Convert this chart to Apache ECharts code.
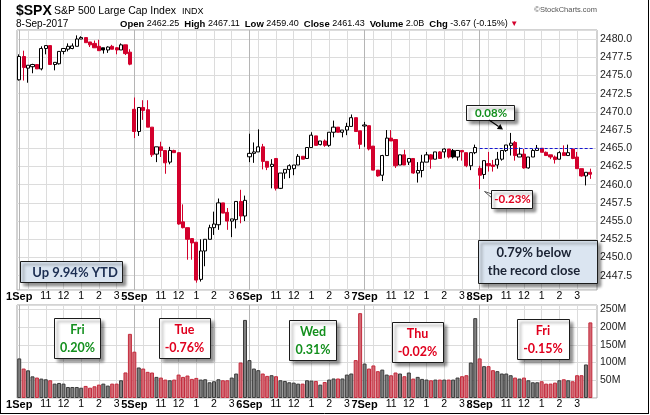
<!DOCTYPE html>
<html>
<head>
<meta charset="utf-8">
<title>$SPX 15 minute</title>
<script src="https://cdn.jsdelivr.net/npm/echarts@6/dist/echarts.min.js"></script>
<style>
  html, body { margin: 0; padding: 0; background: #fff; }
  #chart { width: 650px; height: 415px; }
</style>
</head>
<body>
<div id="chart"></div>
<script>
// trading days and the 15 minute slots of each session
const days = ['1Sep', '5Sep', '6Sep', '7Sep', '8Sep'];
const slots = ['9:30', '9:45', '10:00', '10:15', '10:30', '10:45', '11:00', '11:15', '11:30', '11:45',
  '12:00', '12:15', '12:30', '12:45', '13:00', '13:15', '13:30', '13:45', '14:00', '14:15',
  '14:30', '14:45', '15:00', '15:15', '15:30', '15:45'];
const hourLabels = { '11:00': '11', '12:00': '12', '13:00': '1', '14:00': '2', '15:00': '3' };
const gridSlots = ['9:30', '10:00', '11:00', '12:00', '13:00', '14:00', '15:00'];

const prevClose = 2471.65; // 31-Aug close, colours the first bar

const opens = [
  2474.4, 2477.6, 2476.0, 2476.2, 2476.5, 2475.9, 2478.7, 2479.1, 2476.5, 2476.6, 2478.3, 2478.6, 2478.7,
  2479.0, 2480.0, 2480.2, 2479.6, 2479.4, 2479.0, 2478.8, 2478.5, 2479.0, 2478.8, 2478.5, 2479.2, 2478.2,
  2470.35, 2467.3, 2470.6, 2470.3, 2467.9, 2464.2, 2465.2, 2464.7, 2463.1, 2464.7, 2464.4, 2454.9, 2454.1,
  2452.6, 2452.1, 2447.0, 2450.9, 2452.5, 2454.1, 2454.5, 2457.5, 2456.2, 2455.0, 2455.2, 2457.7, 2455.7,
  2463.83, 2464.3, 2464.5, 2465.2, 2463.2, 2462.5, 2463.6, 2459.5, 2461.6, 2462.1, 2462.2, 2462.7, 2463.9,
  2463.6, 2465.1, 2466.7, 2465.5, 2466.0, 2465.4, 2467.2, 2467.9, 2467.2, 2467.5, 2468.0, 2469.2, 2467.4,
  2468.06, 2468.1, 2465.3, 2462.0, 2461.3, 2464.0, 2466.4, 2466.2, 2462.7, 2464.1, 2463.1, 2463.6, 2461.6,
  2461.95, 2463.1, 2464.1, 2463.5, 2464.5, 2464.5, 2464.9, 2464.7, 2463.8, 2464.7, 2464.4, 2462.6, 2464.4,
  2462.25, 2461.4, 2462.9, 2462.7, 2462.7, 2463.5, 2464.7, 2465.4, 2465.8, 2463.8, 2464.2, 2462.3, 2463.8,
  2464.7, 2465.0, 2464.45, 2464.1, 2463.8, 2463.5, 2464.4, 2464.0, 2464.9, 2463.8, 2462.2, 2461.2, 2461.7
];
const closes = [
  2477.6, 2476.1, 2476.4, 2476.5, 2475.9, 2478.7, 2479.1, 2476.5, 2476.8, 2478.3, 2478.7, 2479.0, 2479.05,
  2480.0, 2480.2, 2479.5, 2479.2, 2478.8, 2478.4, 2478.5, 2478.9, 2478.6, 2478.5, 2479.2, 2478.0, 2476.55,
  2467.3, 2470.6, 2470.2, 2467.9, 2464.1, 2465.2, 2464.7, 2463.0, 2464.7, 2464.4, 2454.6, 2454.1, 2452.5,
  2452.0, 2446.9, 2450.9, 2452.5, 2454.1, 2454.6, 2457.5, 2456.1, 2455.0, 2455.3, 2457.7, 2455.7, 2457.85,
  2464.3, 2464.5, 2465.2, 2463.2, 2462.4, 2462.8, 2459.5, 2461.6, 2462.1, 2462.6, 2462.7, 2463.9, 2463.5,
  2465.1, 2466.8, 2465.4, 2466.0, 2465.4, 2467.2, 2467.9, 2467.2, 2467.5, 2468.0, 2469.2, 2467.3, 2465.54,
  2468.2, 2464.9, 2462.0, 2461.2, 2464.0, 2466.4, 2466.0, 2462.6, 2464.1, 2462.7, 2463.6, 2461.6, 2461.95,
  2463.1, 2464.1, 2463.5, 2464.5, 2463.6, 2464.9, 2463.8, 2463.8, 2464.7, 2464.5, 2462.6, 2464.4, 2465.1,
  2461.3, 2463.3, 2462.6, 2462.5, 2463.5, 2464.7, 2465.45, 2465.7, 2464.0, 2464.2, 2462.3, 2463.8, 2464.7,
  2465.0, 2464.45, 2464.0, 2463.8, 2463.45, 2464.4, 2464.0, 2464.4, 2463.6, 2462.2, 2461.2, 2461.7, 2461.43
];
const lows = [
  2474.3, 2474.3, 2474.0, 2475.3, 2475.9, 2475.7, 2477.9, 2476.5, 2475.7, 2476.5, 2477.9, 2478.3, 2478.6,
  2479.0, 2480.0, 2479.5, 2478.9, 2478.8, 2478.4, 2478.0, 2478.1, 2478.6, 2477.9, 2478.5, 2477.8, 2476.4,
  2466.4, 2466.7, 2468.9, 2467.9, 2463.8, 2463.1, 2463.8, 2461.5, 2462.8, 2464.4, 2454.5, 2454.0, 2449.7,
  2449.7, 2446.55, 2446.7, 2448.8, 2452.5, 2453.1, 2453.8, 2456.1, 2453.8, 2452.8, 2454.0, 2454.7, 2455.0,
  2463.1, 2463.0, 2464.5, 2462.1, 2462.0, 2459.5, 2459.2, 2459.4, 2460.8, 2460.9, 2461.3, 2462.7, 2463.5,
  2463.6, 2465.1, 2465.4, 2465.4, 2465.2, 2465.2, 2466.5, 2467.2, 2466.5, 2466.8, 2468.0, 2467.3, 2464.9,
  2465.2, 2464.7, 2462.0, 2461.1, 2460.5, 2464.0, 2466.0, 2462.3, 2462.7, 2462.7, 2462.7, 2461.5, 2460.29,
  2461.0, 2463.1, 2462.2, 2463.5, 2463.6, 2463.7, 2463.6, 2463.6, 2463.3, 2463.3, 2462.4, 2462.0, 2464.2,
  2459.4, 2460.8, 2461.8, 2461.8, 2462.2, 2463.3, 2464.5, 2464.0, 2463.3, 2463.8, 2462.2, 2462.2, 2463.8,
  2464.7, 2464.45, 2464.0, 2463.5, 2462.9, 2463.45, 2464.0, 2464.0, 2463.5, 2462.2, 2461.1, 2459.9, 2460.8
];
const highs = [
  2477.9, 2478.4, 2476.4, 2476.6, 2476.5, 2479.0, 2479.1, 2479.1, 2476.8, 2478.3, 2478.7, 2479.4, 2479.4,
  2480.5, 2480.38, 2480.2, 2479.6, 2479.8, 2479.9, 2478.8, 2479.0, 2479.2, 2478.9, 2479.4, 2479.2, 2478.6,
  2471.97, 2470.6, 2471.6, 2471.6, 2467.9, 2465.2, 2465.9, 2464.7, 2465.2, 2464.8, 2464.4, 2457.3, 2454.1,
  2452.6, 2452.1, 2452.5, 2452.5, 2454.5, 2456.3, 2458.1, 2457.5, 2456.8, 2455.3, 2457.7, 2459.3, 2458.5,
  2467.0, 2465.8, 2467.6, 2465.6, 2463.2, 2463.5, 2463.6, 2461.6, 2462.1, 2462.8, 2462.7, 2464.2, 2463.9,
  2465.1, 2467.2, 2466.7, 2466.0, 2466.2, 2467.2, 2468.8, 2467.9, 2467.5, 2468.5, 2469.64, 2469.2, 2467.4,
  2468.62, 2468.1, 2465.3, 2462.0, 2464.1, 2467.5, 2467.5, 2466.2, 2464.1, 2464.8, 2463.6, 2463.6, 2463.1,
  2464.1, 2464.5, 2464.2, 2464.5, 2464.6, 2465.0, 2464.9, 2464.9, 2464.7, 2464.7, 2464.4, 2464.4, 2465.5,
  2462.6, 2463.3, 2464.5, 2463.4, 2464.5, 2464.7, 2465.45, 2467.11, 2466.0, 2465.1, 2464.9, 2463.8, 2464.9,
  2465.45, 2465.0, 2464.55, 2464.1, 2464.0, 2464.6, 2465.4, 2465.5, 2464.9, 2464.5, 2462.2, 2461.7, 2462.2
];
// volume in millions of shares
const volumes = [
  111.5, 83, 78, 61, 57.6, 54.7, 52.8, 50, 40.5, 42.4, 40.5, 31, 31, 31, 29, 34, 29, 33, 37.7, 40.5, 35, 40.5, 40.5, 50, 72, 180.7,
  130.5, 86, 83, 73.7, 71.8, 59.5, 57.6, 51.9, 50, 51.9, 66, 59.5, 63.3, 53.8, 56.6, 51.9, 52.8, 44.3, 47.2, 52.8, 50, 50, 57.6, 68.9, 100, 220,
  106.8, 83, 78.4, 69, 62.3, 64.2, 61.4, 50, 48, 44.3, 43.4, 40.5, 40.5, 50, 49, 48, 37.7, 45, 52, 55, 55, 55, 66, 69, 106.8, 239,
  97, 83, 91.7, 75.6, 80, 66, 64, 71.8, 69, 61.4, 71.8, 54.7, 59.5, 53.8, 51.9, 50, 51.9, 51.9, 51.9, 51.9, 51.9, 57.6, 61.4, 64.2, 100, 225,
  111.5, 89.7, 89.7, 78.4, 75.6, 69, 69, 64.2, 57.6, 54.7, 57.6, 50, 44.3, 44.3, 47.2, 40.5, 40.5, 43.4, 50, 52.8, 50, 47.2, 64.2, 64.2, 94.5, 213
];

const RED = '#d3002c';
const GREEN_TXT = '#14901e';
const RED_TXT = '#e0001e';
const FONT = '"Liberation Sans", Arial, sans-serif';
const NOTE_FONT = 'Lato, "Open Sans", sans-serif';

const categories = [];
days.forEach(d => slots.forEach(s => categories.push(d + ' ' + s)));
categories.push(''); // empty slot at the right edge of the plot

function tickLabel(value) {
  if (!value) return '';
  const [day, slot] = value.split(' ');
  if (slot === '9:30') return '{d|' + day + '}';
  return hourLabels[slot] || '';
}
function isGridSlot(value) {
  return !!value && gridSlots.includes(value.split(' ')[1]);
}

const candleData = opens.map((o, i) => {
  const c = closes[i];
  const before = i === 0 ? prevClose : closes[i - 1];
  const line = c >= before ? '#000000' : RED;
  const fill = c > o ? '#ffffff' : line;
  return {
    value: [o, c, lows[i], highs[i]],
    itemStyle: { color: fill, color0: fill, borderColor: line, borderColor0: line }
  };
});

const volumeData = volumes.map((v, i) => {
  const before = i === 0 ? prevClose : closes[i - 1];
  const up = closes[i] >= before;
  return {
    value: v,
    itemStyle: up ? { color: '#808080', borderColor: '#3a3a3a' } : { color: '#d26a74', borderColor: '#c42a3c' }
  };
});

function xAxisFor(gridIndex) {
  return {
    type: 'category',
    gridIndex: gridIndex,
    data: categories,
    boundaryGap: true,
    axisLine: { show: false },
    axisTick: { show: false },
    axisLabel: {
      interval: (i, value) => tickLabel(value) !== '',
      formatter: value => tickLabel(value),
      margin: 1,
      color: '#000',
      fontFamily: FONT,
      fontSize: 10.5,
      rich: { d: { fontWeight: 'bold', fontSize: 11, fontFamily: FONT, color: '#000' } }
    },
    splitLine: {
      show: true,
      interval: (i, value) => isGridSlot(value),
      alignWithLabel: true,
      lineStyle: { color: ['#b5b5b5', '#dcdcdc', '#dcdcdc', '#dcdcdc', '#dcdcdc', '#dcdcdc', '#dcdcdc'], width: 1 }
    }
  };
}

function noteBox(x, y, w, h, text, color, fill, tx, ty, size) {
  return [
    {
      type: 'rect', z: 100,
      shape: { x: x, y: y, width: w, height: h },
      style: {
        fill: fill, stroke: '#1b1b1b', lineWidth: 1,
        shadowBlur: 3, shadowOffsetX: 3, shadowOffsetY: 3, shadowColor: 'rgba(0,0,0,0.45)'
      }
    },
    {
      type: 'text', z: 101, x: tx, y: ty,
      style: {
        text: text, fill: color, align: 'center', verticalAlign: 'middle',
        font: 'bold ' + size + 'px ' + NOTE_FONT, lineHeight: 18
      }
    }
  ];
}

const chart = echarts.init(document.getElementById('chart'), null, { width: 650, height: 415 });

chart.setOption({
  animation: false,
  backgroundColor: '#ffffff',
  grid: [
    { left: 17, top: 30, width: 580, height: 260, show: true, backgroundColor: '#fff',
      borderColor: '#a6a6a6', borderWidth: 1, containLabel: false, outerBoundsMode: 'none' },
    { left: 17, top: 305, width: 580, height: 93, show: true, backgroundColor: '#fff',
      borderColor: '#a6a6a6', borderWidth: 1, containLabel: false, outerBoundsMode: 'none' }
  ],
  xAxis: [xAxisFor(0), xAxisFor(1)],
  yAxis: [
    {
      type: 'value', gridIndex: 0, position: 'right', scale: true,
      min: 2445.54, max: 2481.24, minInterval: 2.5, maxInterval: 2.5,
      axisLine: { show: false }, axisTick: { show: false },
      axisLabel: {
        showMinLabel: false, showMaxLabel: false, margin: 3,
        formatter: v => v.toFixed(1), color: '#222', fontFamily: FONT, fontSize: 10.5
      },
      splitLine: { lineStyle: { color: '#dcdcdc', width: 1 } }
    },
    {
      type: 'value', gridIndex: 1, position: 'right',
      min: 0, max: 262, minInterval: 50, maxInterval: 50,
      axisLine: { show: false }, axisTick: { show: false },
      axisLabel: {
        showMinLabel: false, showMaxLabel: false, margin: 3,
        formatter: v => v + 'M', color: '#222', fontFamily: FONT, fontSize: 10.5
      },
      splitLine: { lineStyle: { color: '#dcdcdc', width: 1 } }
    }
  ],
  series: [
    {
      type: 'candlestick',
      xAxisIndex: 0, yAxisIndex: 0,
      barWidth: '82%',
      data: candleData,
      itemStyle: { borderWidth: 1 },
      markLine: {
        silent: true,
        symbol: ['none', 'none'],
        label: { show: false },
        lineStyle: { color: '#1414d2', type: [3, 2], width: 1 },
        data: [[{ coord: [104, 2465] }, { coord: [130, 2465] }]]
      }
    },
    {
      type: 'bar',
      xAxisIndex: 1, yAxisIndex: 1,
      barCategoryGap: '10%',
      data: volumeData,
      itemStyle: { borderWidth: 1 }
    }
  ],
  graphic: [
    // outer frame
    { type: 'line', shape: { x1: 0.5, y1: 0, x2: 0.5, y2: 414 }, style: { stroke: '#000', lineWidth: 1 } },
    { type: 'line', shape: { x1: 648.5, y1: 0, x2: 648.5, y2: 414 }, style: { stroke: '#000', lineWidth: 1 } },
    { type: 'line', shape: { x1: 0, y1: 413.5, x2: 649, y2: 413.5 }, style: { stroke: '#000', lineWidth: 1 } },
    // header
    { type: 'text', x: 16, y: 11, style: { text: '$SPX', font: 'bold 14px ' + FONT, fill: '#000', verticalAlign: 'middle' } },
    { type: 'text', x: 54, y: 11.5, style: { text: 'S&P 500 Large Cap Index', font: '10.5px ' + FONT, fill: '#000', verticalAlign: 'middle' } },
    { type: 'text', x: 182, y: 12, style: { text: 'INDX', font: '9px ' + FONT, fill: '#000', verticalAlign: 'middle' } },
    { type: 'text', x: 597, y: 10, style: { text: '\u00a9StockCharts.com', font: '7.5px ' + FONT, fill: '#555', align: 'right', verticalAlign: 'middle' } },
    { type: 'text', x: 16, y: 24, style: { text: '8-Sep-2017', font: '10px ' + FONT, fill: '#000', verticalAlign: 'middle' } },
    {
      type: 'text', x: 120, y: 24,
      style: {
        text: '{b|Open} 2462.25  {b|High} 2467.11  {b|Low} 2459.40  {b|Close} 2461.43  {b|Volume} 2.0B  {b|Chg} -3.67 (-0.15%) {t|\u25bc}',
        font: '9px ' + FONT, fill: '#000', verticalAlign: 'middle',
        rich: {
          b: { font: 'bold 9.5px ' + FONT, fill: '#000' },
          t: { font: '8px ' + FONT, fill: RED }
        }
      }
    },
    // price panel notes
    ...noteBox(20.5, 261.5, 102, 21, 'Up 9.94% YTD', '#1c2e52', '#dbe5f1', 75, 272.5, 13),
    ...noteBox(478.5, 240.5, 119, 43, '0.79% below\nthe record close', '#1a2233', '#dbe5f1', 534, 262, 13),
    ...noteBox(466.5, 105.5, 48, 15, '0.08%', GREEN_TXT, '#ffffff', 491, 113.5, 11.5),
    ...noteBox(491.5, 190.5, 41, 18, '-0.23%', RED_TXT, '#ffffff', 512.5, 199.5, 11.5),
    { type: 'line', z: 100, shape: { x1: 489, y1: 120, x2: 498.6, y2: 126.6 }, style: { stroke: '#000', lineWidth: 1.2 } },
    { type: 'polygon', z: 100, shape: { points: [[503, 129.6], [496.9, 129.1], [500.3, 124.1]] }, style: { fill: '#000' } },
    { type: 'polyline', z: 99, shape: { points: [[492, 194], [484.5, 191.5], [492, 198]] }, style: { stroke: '#555', fill: '#fff', lineWidth: 1 } },
    // daily change notes in the volume panel
    ...noteBox(54.5, 318.5, 46, 40, 'Fri\n0.20%', GREEN_TXT, '#ffffff', 77.5, 338.5, 12.5),
    ...noteBox(159.5, 318.5, 51, 40, 'Tue\n-0.76%', RED_TXT, '#ffffff', 184.5, 338.5, 12.5),
    ...noteBox(289.5, 320.5, 47, 40, 'Wed\n0.31%', GREEN_TXT, '#ffffff', 313, 340.5, 12.5),
    ...noteBox(392.5, 322.5, 51, 40, 'Thu\n-0.02%', RED_TXT, '#ffffff', 417.5, 342.5, 12.5),
    ...noteBox(517.5, 319.5, 52, 40, 'Fri\n-0.15%', RED_TXT, '#ffffff', 543, 339.5, 12.5)
  ]
});
</script>
</body>
</html>
